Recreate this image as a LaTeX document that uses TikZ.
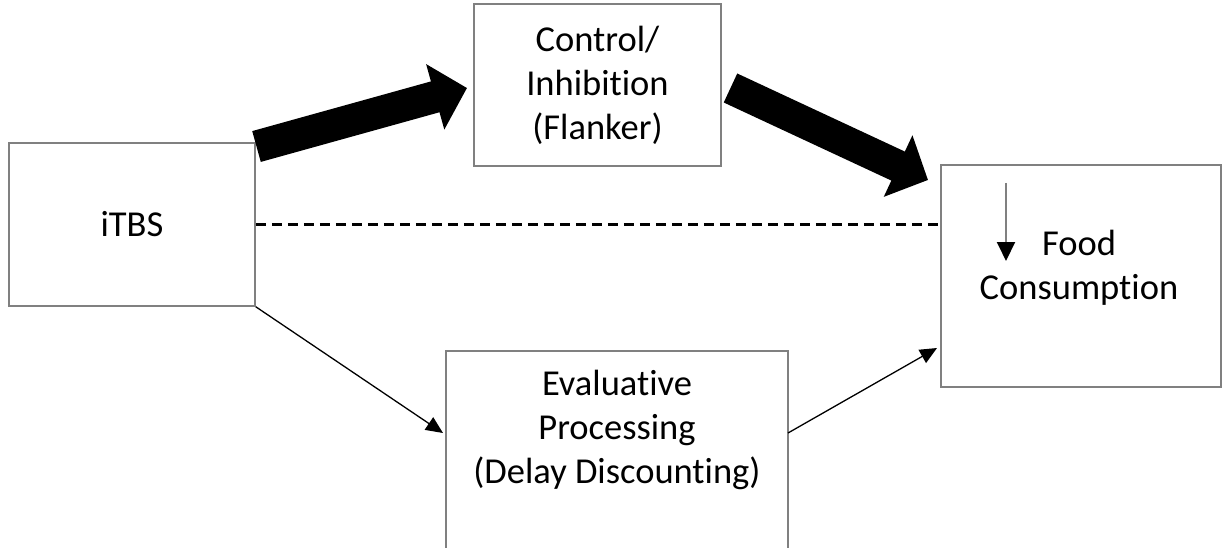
\documentclass[tikz,border=0pt]{standalone}
\usepackage{fontspec}
\setmainfont{Carlito}[Ligatures={NoCommon}]
\usetikzlibrary{arrows.meta}
\definecolor{boxgray}{RGB}{128,128,128}
\tikzset{
  box/.style={draw=boxgray, line width=1.5pt, inner sep=0pt, fill=white},
  lbl/.style={align=center, font=\fontsize{36.5}{44}\selectfont, inner sep=0pt},
  bigarrow/.style={line width=32pt, -{Triangle[length=33pt,width=66pt]}},
  thinarrow/.style={line width=1.3pt, -{Triangle[length=17pt,width=15pt]}},
  dashline/.style={line width=2.5pt, dash pattern=on 10pt off 6pt},
}
\begin{document}
\begin{tikzpicture}[x=1pt,y=-1pt]
\useasboundingbox (0,0) rectangle (1223,548);
\clip (0,0) rectangle (1223,548);
% boxes
\node[box, lbl, minimum width=246pt, minimum height=163pt] (itbs) at (132,224.5) {iTBS};
\node[box, lbl, minimum width=247pt, minimum height=162pt] (ctrl) at (597.5,85) {Control/\\Inhibition\\(Flanker)};
\node[box, minimum width=280pt, minimum height=222pt] (food) at (1081,276) {};
\node[box, minimum width=342pt, minimum height=240pt] (eval) at (617,471) {};
\node[lbl] (foodtxt) at (1079,268) {Food\\Consumption};
\node[lbl] (evaltxt) at (617,430) {Evaluative\\Processing\\(Delay Discounting)};
% thick arrows
\coordinate (a1s) at (256.5,146.5);
\coordinate (a1e) at (467,88);
\coordinate (a2s) at (730.5,88);
\coordinate (a2e) at (928,180);
\draw[bigarrow] (a1s) -- (a1e);
\draw[bigarrow] (a2s) -- (a2e);
% dashed direct path
\draw[dashline] (itbs.east) -- (itbs.east -| food.west);
% thin arrows
\coordinate (t1e) at (443,433);
\coordinate (t2s) at (788,433);
\coordinate (t2e) at (937,348);
\draw[thinarrow] (itbs.south east) -- (t1e);
\draw[thinarrow] (t2s) -- (t2e);
% decrease arrow
\coordinate (ds) at (1006,183);
\coordinate (de) at (1006,261);
\draw[draw=boxgray, line width=2pt, -{Triangle[length=19pt,width=18pt,black]}] (ds) -- (de);
\end{tikzpicture}
\end{document}
